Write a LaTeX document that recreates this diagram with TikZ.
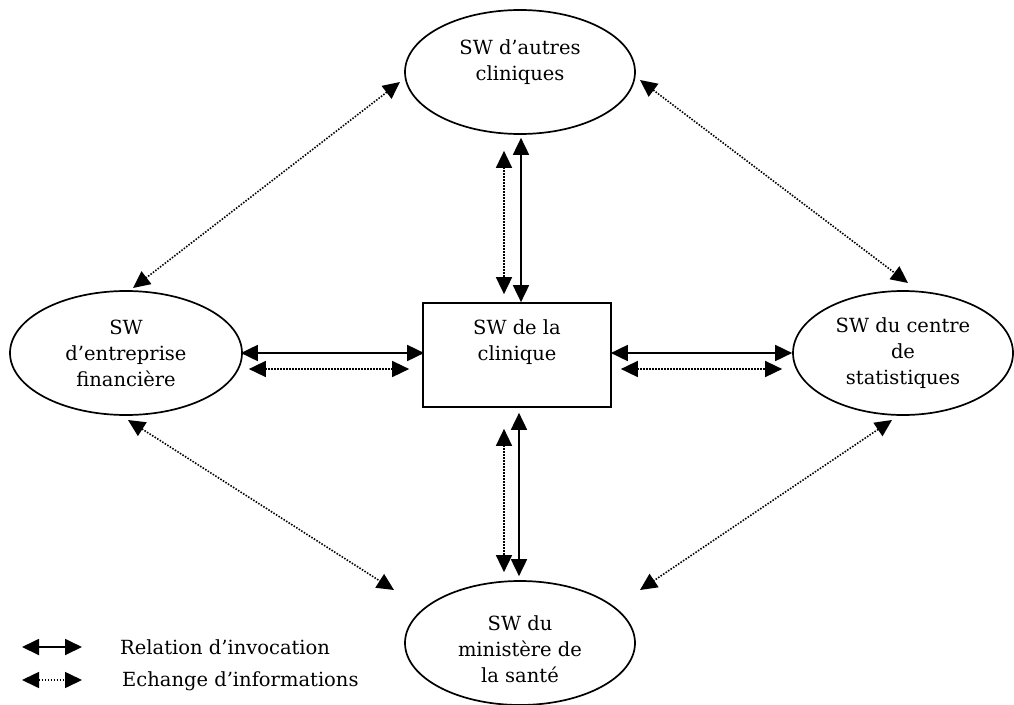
\documentclass[tikz,border=0pt]{standalone}
\usepackage{fontspec}
\setmainfont{DejaVu Serif}
\usetikzlibrary{arrows.meta,shapes.geometric}
\tikzset{
  ell/.style={draw,ellipse,line width=1.7pt,inner sep=0pt,align=center},
  box/.style={draw,rectangle,line width=1.7pt,inner sep=0pt},
  lbl/.style={align=center,inner sep=0pt},
  tipA/.tip={Triangle[length=17pt,width=16pt]},
  inv/.style={line width=1.8pt,tipA-tipA},
  info/.style={line width=1.6pt,dash pattern=on 1.5pt off 1.5pt,tipA-tipA},
}
\begin{document}
\begin{tikzpicture}[x=1pt,y=-1pt,font=\fontsize{19.5}{26}\selectfont]
\useasboundingbox (0,0) rectangle (1014,704);
% nodes
\node[ell,minimum width=230,minimum height=124] (top) at (520,72) {};
\node[lbl] (topt) at (520,62) {SW d’autres\\cliniques};
\node[ell,minimum width=232,minimum height=124] (left) at (126,353) {SW\\d’entreprise\\financière};
\node[ell,minimum width=220,minimum height=124] (right) at (903,353) {SW du centre\\de\\statistiques};
\node[ell,minimum width=230,minimum height=124] (bot) at (520,643) {};
\node[lbl] (bott) at (520,649) {SW du\\ministère de\\la santé};
\node[box,minimum width=188,minimum height=104] (clin) at (517,355) {};
\node[lbl] (clint) at (517,342) {SW de la\\clinique};
% vertical
\draw[inv] ([xshift=1,yshift=-3]top.south) -- ([xshift=4]clin.north);
\draw[info] ([xshift=-16,yshift=-16]top.south) -- ([xshift=-13,yshift=8]clin.north);
\draw[inv] ([xshift=2,yshift=-5]clin.south) -- ([xshift=-1,yshift=4]bot.north);
\draw[info] ([xshift=-13,yshift=-21]clin.south) -- ([xshift=-16,yshift=8]bot.north);
% horizontal
\draw[inv] ([xshift=-2]left.east) -- ([xshift=2]left.east -| clin.west);
\draw[info] ([xshift=6,yshift=-16]left.east) -- ([xshift=-13,yshift=-16]left.east -| clin.west);
\draw[inv] ([xshift=-1]right.west -| clin.east) -- (right.west);
\draw[info] ([xshift=9,yshift=-16]right.west -| clin.east) -- ([xshift=-10,yshift=-16]right.west);
% diagonals
\coordinate (tl1) at (400,82);
\coordinate (tl2) at (133,288);
\coordinate (tr1) at (640,80);
\coordinate (tr2) at (908,283);
\coordinate (bl1) at (128,420);
\coordinate (bl2) at (394,590);
\coordinate (br1) at (892,420);
\coordinate (br2) at (640,590);
\draw[info] (tl1) -- (tl2);
\draw[info] (tr1) -- (tr2);
\draw[info] (bl1) -- (bl2);
\draw[info] (br1) -- (br2);
% legend
\coordinate (l1a) at (22,647);
\coordinate (l1b) at (82,647);
\coordinate (l2a) at (22,680);
\coordinate (l2b) at (82,680);
\draw[inv] (l1a) -- (l1b);
\draw[info] (l2a) -- (l2b);
\node[anchor=west,inner sep=0pt] (leg1) at (120,647) {Relation d’invocation};
\node[anchor=west,inner sep=0pt] (leg2) at (122,681) {Echange d’informations};
\end{tikzpicture}
\end{document}
